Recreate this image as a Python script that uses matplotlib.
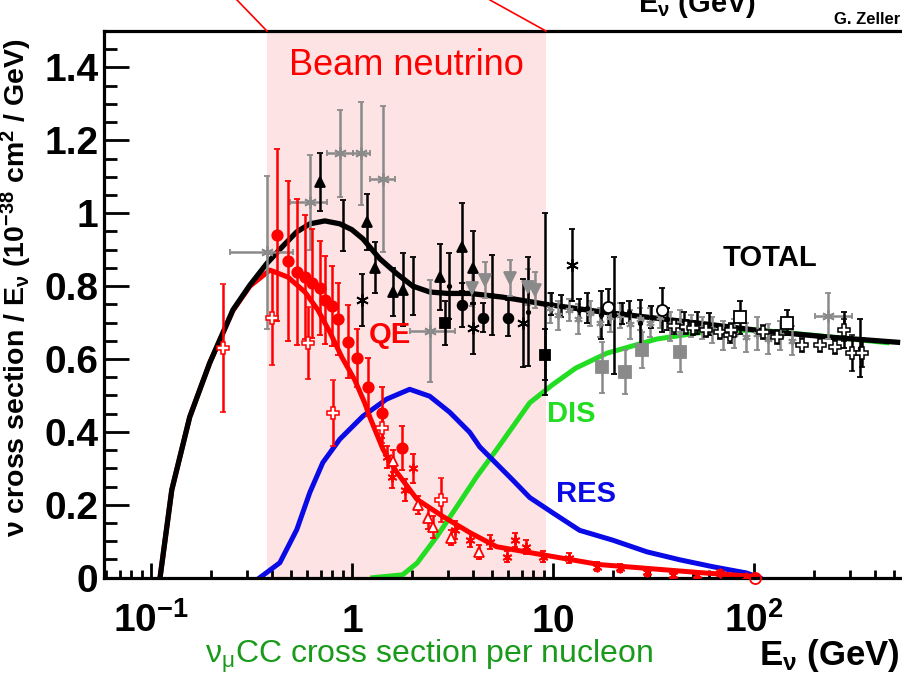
import numpy as np
import matplotlib
matplotlib.use("Agg")
import matplotlib.pyplot as plt
from matplotlib.lines import Line2D

plt.rcParams["font.family"] = ["Liberation Sans", "DejaVu Sans"]
plt.rcParams["mathtext.fontset"] = "custom"
plt.rcParams["mathtext.rm"] = "Liberation Sans"
plt.rcParams["mathtext.bf"] = "Liberation Sans:bold"
plt.rcParams["mathtext.it"] = "Liberation Sans:italic"
plt.rcParams["mathtext.sf"] = "Liberation Sans"

# -- model curves (E in GeV, sigma/E in 1e-38 cm^2/GeV) -----------------
tot_E = [0.111, 0.127, 0.156, 0.196, 0.256, 0.311, 0.377, 0.454, 0.532, 0.618, 0.734,
         0.871, 1.0, 1.134, 1.378, 1.675, 2.01, 2.44, 3.0, 3.86, 5.6, 9.3, 17.1, 35.2,
         60, 111, 239, 520]
tot_s = [0.0, 0.241, 0.441, 0.589, 0.735, 0.803, 0.862, 0.91, 0.949, 0.971, 0.979,
         0.971, 0.955, 0.93, 0.875, 0.834, 0.80, 0.784, 0.78, 0.78, 0.77, 0.75, 0.73, 0.71,
         0.695, 0.677, 0.66, 0.646]

qe_E = [0.111, 0.127, 0.156, 0.196, 0.256, 0.311, 0.391, 0.48, 0.584, 0.677, 0.777,
        0.892, 1.035, 1.16, 1.23, 1.43, 1.675, 2.11, 2.84, 3.86, 5.26, 7.68, 17.1, 53.9, 104]
qe_s = [0.0, 0.241, 0.441, 0.589, 0.733, 0.80, 0.844, 0.825, 0.784, 0.735, 0.674,
        0.605, 0.542, 0.479, 0.44, 0.352, 0.289, 0.215, 0.168, 0.124, 0.085, 0.069, 0.036,
        0.014, 0.003]

res_E = [0.348, 0.438, 0.532, 0.618, 0.717, 0.871, 1.134, 1.49, 1.94, 2.44, 3.07, 3.86,
         4.33, 6.32, 7.68, 10.0, 13.6, 19.9, 29.4, 43, 62.8, 92, 107]
res_s = [0.0, 0.041, 0.132, 0.234, 0.316, 0.38, 0.443, 0.49, 0.517, 0.498, 0.454, 0.399,
         0.359, 0.268, 0.22, 0.178, 0.13, 0.103, 0.071, 0.049, 0.03, 0.013, 0.0]

dis_E = [1.27, 1.79, 2.11, 2.65, 3.33, 4.19, 5.26, 7.68, 10.0, 13.0, 18.6, 33, 58, 103, 200, 460]
dis_s = [0.0, 0.008, 0.04, 0.113, 0.195, 0.278, 0.352, 0.48, 0.53, 0.575, 0.616, 0.655,
         0.675, 0.68, 0.665, 0.645]

# -- beam region --------------------------------------------------------
beam_lo, beam_hi = 0.378, 9.25

# -- QE data (red) --------------------------------------------------------
rc_E = [0.424, 0.481, 0.532, 0.584, 0.632, 0.693, 0.734, 0.795, 0.852, 0.955, 1.06, 1.2, 1.41, 1.77]
rc_s = [0.94, 0.869, 0.839, 0.825, 0.808, 0.795, 0.762, 0.745, 0.71, 0.647, 0.603, 0.524, 0.452, 0.356]
rc_e = [0.235, 0.22, 0.2, 0.17, 0.15, 0.13, 0.12, 0.11, 0.10, 0.10, 0.08, 0.08, 0.07, 0.06]

rx_E = [0.228, 0.40, 0.604, 0.804, 1.41, 2.77]
rx_s = [0.63, 0.713, 0.644, 0.452, 0.41, 0.213]
rx_e = [0.175, 0.13, 0.10, 0.09, 0.04, 0.06]

rt_E = [1.6, 2.13, 2.39, 2.53, 3.1, 4.3]
rt_s = [0.32, 0.20, 0.165, 0.14, 0.11, 0.07]
rt_e = [0.03, 0.025, 0.03, 0.03, 0.02, 0.02]

rs_E = [1.49, 1.58, 1.83, 2.01, 3.26, 3.86, 4.86, 5.9, 6.5, 7.4, 8.9, 12.1, 16.6, 21.6,
        29.4, 39.5, 52, 67.8, 92]
rs_s = [0.331, 0.276, 0.24, 0.30, 0.13, 0.103, 0.098, 0.057, 0.103, 0.084, 0.057, 0.054,
        0.03, 0.027, 0.016, 0.008, 0.008, 0.013, 0.002]
rs_e = [0.03, 0.03, 0.03, 0.04, 0.025, 0.02, 0.02, 0.015, 0.02, 0.02, 0.015, 0.015,
        0.012, 0.01, 0.01, 0.008, 0.008, 0.008, 0.005]

ro_E = [102]
ro_s = [0.0]

# -- total data (black) -------------------------------------------------
bt_E = [0.693, 1.19, 1.3, 1.6, 1.79, 2.74, 3.53, 4.0]
bt_s = [1.086, 0.976, 0.85, 0.784, 0.79, 0.825, 0.907, 0.85]
bt_e = [0.08, 0.076, 0.07, 0.065, 0.10, 0.09, 0.12, 0.10]

bc_E = [3.53, 4.49, 5.97]
bc_s = [0.748, 0.713, 0.713]
bc_e = [0.06, 0.04, 0.05]

bq_E = [2.9, 9.1]
bq_s = [0.699, 0.612]
bq_e = [0.06, 0.07]

ba_E = [1.12, 4.0, 7.1, 12.4]
ba_s = [0.762, 0.685, 0.699, 0.858]
ba_e = [0.07, 0.07, 0.12, 0.10]

bb_E = [0.902, 2.01, 3.04, 4.97, 7.52, 9.2, 9.8, 11.0, 13.5, 14.8, 17.4, 20.1, 22, 24,
        27.1, 31, 37, 45, 52, 60, 280, 340]
bb_s = [0.967, 0.80, 0.80, 0.775, 0.73, 0.75, 0.75, 0.745, 0.735, 0.74, 0.72, 0.72, 0.725,
        0.73, 0.70, 0.715, 0.71, 0.705, 0.70, 0.695, 0.68, 0.63]
bb_e = [0.07, 0.08, 0.09, 0.11, 0.15, 0.25, 0.03, 0.03, 0.03, 0.04, 0.066, 0.16, 0.03,
        0.03, 0.062, 0.03, 0.03, 0.025, 0.03, 0.03, 0.05, 0.08]

bo_E = [18.8, 34.9]
bo_s = [0.743, 0.734]
bo_e = [0.05, 0.06]

bs_E = [85, 147]
bs_s = [0.715, 0.70]
bs_e = [0.045, 0.035]

bx_E = [40, 46, 50, 58, 67.6, 76, 77.5, 111, 130, 173, 213, 254, 282, 307, 345]
bx_s = [0.69, 0.688, 0.685, 0.68, 0.674, 0.665, 0.68, 0.674, 0.66, 0.639, 0.639, 0.633,
        0.68, 0.617, 0.617]
bx_e = [0.02, 0.02, 0.02, 0.02, 0.02, 0.02, 0.02, 0.02, 0.02, 0.02, 0.02, 0.02, 0.03,
        0.05, 0.04]

# -- total data (grey) --------------------------------------------------
gs_E = [0.377, 0.618, 0.871, 1.11, 1.43, 2.44, 234]
gs_lo = [0.247, 0.491, 0.751, 1.01, 1.23, 1.94, 201]
gs_hi = [0.508, 0.751, 1.01, 1.23, 1.64, 3.25, 307]
gs_s = [0.893, 1.03, 1.164, 1.164, 1.095, 0.677, 0.718]
gs_e = [0.21, 0.13, 0.12, 0.14, 0.20, 0.14, 0.062]

gv_E = [3.95, 4.59, 6.1, 7.52, 8.14]
gv_s = [0.795, 0.817, 0.822, 0.798, 0.79]
gv_e = [0.05, 0.05, 0.05, 0.05, 0.05]

gq_E = [17.5, 22.9, 27.7, 42.8]
gq_s = [0.578, 0.565, 0.625, 0.62]
gq_e = [0.07, 0.06, 0.05, 0.055]

gp_E = [9.7, 10.6, 12.1, 13.3, 15.3, 17.1, 19.2, 21.5, 24.2, 27.1, 30.4, 34.1, 38.3,
        42.9, 49, 55, 62, 70, 80, 92, 104, 118, 135, 155]
gp_s = [0.74, 0.72, 0.735, 0.71, 0.725, 0.70, 0.715, 0.72, 0.695, 0.71, 0.70, 0.715, 0.69,
        0.70, 0.69, 0.685, 0.68, 0.665, 0.67, 0.66, 0.67, 0.655, 0.665, 0.65]
gp_e = [0.04, 0.04, 0.03, 0.04, 0.035, 0.04, 0.04, 0.035, 0.04, 0.03, 0.04, 0.03, 0.04,
        0.035, 0.03, 0.03, 0.035, 0.04, 0.04, 0.04, 0.045, 0.04, 0.04, 0.04]

# -- axis ticks ---------------------------------------------------------
y_ticks = [0, 0.2, 0.4, 0.6, 0.8, 1.0, 1.2, 1.4]
y_labels = ["0", "0.2", "0.4", "0.6", "0.8", "1", "1.2", "1.4"]
x_ticks = [0.1, 1, 10, 100]
x_labels = [r"$\mathbf{10^{-1}}$", r"$\mathbf{1}$", r"$\mathbf{10}$", r"$\mathbf{10^{2}}$"]

RED, BLUE, GREEN, GREY = "#ff0000", "#0a0ae6", "#22dd22", "#8a8a8a"
STAR = (6, 2, 0)

fig = plt.figure(figsize=(9.02, 6.76), dpi=100)
ax = fig.add_axes([0.1153, 0.1454, 0.8936, 0.8087])
ax.set_xscale("log")
ax.set_xlim(0.0584, 600)
ax.set_ylim(0, 1.5)

ax.axvspan(beam_lo, beam_hi, color="#fde3e3", lw=0, zorder=0)


def pts(E, s, err, color, marker, ms, face=None, lo=None, hi=None, mew=1.3, z=3):
    xerr = None
    if lo is not None:
        xerr = [np.subtract(E, lo), np.subtract(hi, E)]
    ax.errorbar(E, s, yerr=err, xerr=xerr, marker=marker, linestyle="none",
                color=color, mfc=face if face else color, mec=color, ms=ms, mew=mew,
                elinewidth=1.8, capsize=2.5, capthick=1.8, zorder=z)


# curves
ax.plot(dis_E, dis_s, color=GREEN, lw=3.6, zorder=2)
ax.plot(res_E, res_s, color=BLUE, lw=3.6, zorder=2)
ax.plot(tot_E, tot_s, color="black", lw=3.8, zorder=2.2)
ax.plot(qe_E, qe_s, color=RED, lw=3.6, zorder=2.1)

# grey data
pts(gp_E, gp_s, gp_e, GREY, STAR, 6)
pts(gs_E, gs_s, gs_e, GREY, STAR, 9, lo=gs_lo, hi=gs_hi)
pts(gv_E, gv_s, gv_e, GREY, "v", 8)
pts(gq_E, gq_s, gq_e, GREY, "s", 8)

# black data
pts(bb_E, bb_s, bb_e, "black", "o", 2.5)
pts(bt_E, bt_s, bt_e, "black", "^", 7)
pts(bc_E, bc_s, bc_e, "black", "o", 7)
pts(bq_E, bq_s, bq_e, "black", "s", 7)
pts(ba_E, ba_s, ba_e, "black", STAR, 9)
pts(bo_E, bo_s, bo_e, "black", "o", 8, face="white")
pts(bs_E, bs_s, bs_e, "black", "s", 8, face="white")
pts(bx_E, bx_s, bx_e, "black", "P", 9, face="white", mew=1.1)

# red data
pts(rs_E, rs_s, rs_e, RED, STAR, 7)
pts(rt_E, rt_s, rt_e, RED, "^", 7, face="white")
pts(rx_E, rx_s, rx_e, RED, "P", 9, face="white", mew=1.1)
pts(rc_E, rc_s, rc_e, RED, "o", 7.5)
ax.plot(ro_E, ro_s, "o", mfc="none", mec=RED, ms=8, mew=1.3, zorder=3, clip_on=False)

# labels on the plot
ax.text(1.55, 0.665, "QE", color=RED, fontsize=21, fontweight="bold", ha="center", va="center")
ax.text(12.4, 0.448, "DIS", color=GREEN, fontsize=21, fontweight="bold", ha="center", va="center")
ax.text(14.7, 0.23, "RES", color=BLUE, fontsize=21, fontweight="bold", ha="center", va="center")
ax.text(120, 0.877, "TOTAL", color="black", fontsize=21, fontweight="bold", ha="center", va="center")
ax.text(1.88, 1.406, "Beam neutrino", color=RED, fontsize=26, ha="center", va="center")

# axes styling (ROOT-like)
for side in ["left", "bottom", "top", "right"]:
    ax.spines[side].set_linewidth(2.3)
ax.set_yticks(y_ticks)
ax.set_yticklabels(y_labels, fontweight="bold")
ax.set_yticks(np.arange(0, 1.5, 0.05), minor=True)
ax.set_xticks(x_ticks)
ax.set_xticklabels(x_labels)
ax.xaxis.set_minor_locator(matplotlib.ticker.LogLocator(base=10, subs=np.arange(2, 10)))
ax.xaxis.set_minor_formatter(matplotlib.ticker.NullFormatter())
ax.tick_params(axis="y", which="major", direction="in", length=18, width=2, labelsize=28, pad=4)
ax.tick_params(axis="y", which="minor", direction="in", length=9, width=2)
ax.tick_params(axis="x", which="major", direction="in", length=11, width=2, labelsize=28, pad=39)
ax.tick_params(axis="x", which="minor", direction="in", length=5.5, width=2)
for lbl in ax.get_xticklabels():
    lbl.set_va("baseline")

ax.set_ylabel(r"$\mathbf{\nu\ cross\ section\ /\ E_{\nu}\ (10^{-38}\ cm^{2}\ /\ GeV)}$", fontsize=20.5)
ax.yaxis.set_label_coords(-0.087, 0.53)
ax.set_xlabel(r"$\mathbf{E_{\nu}\ (GeV)}$", fontsize=25, ha="right", va="baseline")
ax.xaxis.set_label_coords(0.9876, -0.1597)

# text outside the frame
fig.text(429 / 902, 1 - 663 / 676, r"$\mathrm{\nu_{\mu}}$CC cross section per nucleon",
         color="#1a9a1a", fontsize=23, ha="center", va="baseline")
fig.text(638 / 902, 1 - 12 / 676, r"$\mathbf{E_{\nu}\ (GeV)}$", fontsize=21,
         ha="left", va="baseline")
fig.text(900 / 902, 1 - 19 / 676, "G. Zeller", fontsize=12, fontweight="bold",
         ha="right", va="center")

# red guide lines from the top edge down to the beam band corners
inv = fig.transFigure.inverted()
for x_top, e_corner in [(237 / 902, beam_lo), (490 / 902, beam_hi)]:
    cx, cy = inv.transform(ax.transData.transform((e_corner, 1.5)))
    fig.add_artist(Line2D([x_top, cx], [1.0, cy], color=RED, lw=1.2))

plt.savefig("out.png", dpi=100)
plt.close()
